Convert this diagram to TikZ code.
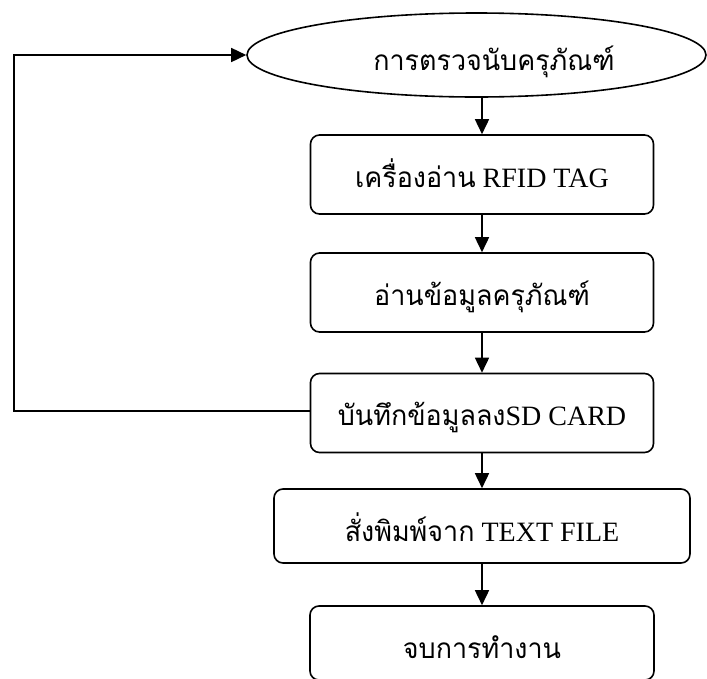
\documentclass[tikz,border=0pt]{standalone}
\usepackage{fontspec}
\setmainfont{Liberation Serif}
\newfontfamily\thai[Script=Thai,FakeStretch=0.96]{Loma}
\newcommand{\thtxt}[1]{{\thai\fontsize{28}{32}\selectfont #1}}
\usetikzlibrary{shapes.geometric,arrows.meta}
\begin{document}
\begin{tikzpicture}[x=1pt,y=-1pt,
  lw/.style={line width=1.6pt},
  box/.style={lw,draw,rounded corners=9pt,minimum height=79pt,inner sep=0pt,
    text height=25pt,text depth=0pt,font=\fontsize{28}{32}\selectfont},
  low/.style={text height=30pt},
  oval/.style={lw,draw,ellipse,minimum width=459pt,minimum height=84pt,inner sep=0pt},
  arr/.style={lw,-{Triangle[length=15pt,width=14pt]}}]
\useasboundingbox (0,0) rectangle (707,678);
\node[oval] (e) at (476.5,55) {};
\node[anchor=base,inner sep=0pt] (et) at (494,70) {\thtxt{การตรวจนับครุภัณฑ์}};
\node[box,minimum width=343pt] (b1) at (482,174.5) {\thtxt{เครื่องอ่าน} RFID TAG};
\node[box,minimum width=343pt] (b2) at (482,292.5) {\thtxt{อ่านข้อมูลครุภัณฑ์}};
\node[box,minimum width=343pt] (b3) at (482,413) {\thtxt{บันทึกข้อมูลลง}SD CARD};
\node[box,low,minimum width=416pt,minimum height=74pt] (b4) at (482,526) {\thtxt{สั่งพิมพ์จาก} TEXT FILE};
\node[box,low,minimum width=344pt,minimum height=74pt] (b5) at (482,643) {\thtxt{จบการทำงาน}};
\coordinate (c1) at (14,411);
\coordinate (c2) at (14,55);
\draw[arr] (b1.north |- e.south) -- (b1.north);
\draw[arr] (b1) -- (b2);
\draw[arr] (b2) -- (b3);
\draw[arr] (b3) -- (b4);
\draw[arr] (b4) -- (b5);
\draw[arr] (b3.west |- c1) -- (c1) -- (c2) -- (e.west);
\end{tikzpicture}
\end{document}
